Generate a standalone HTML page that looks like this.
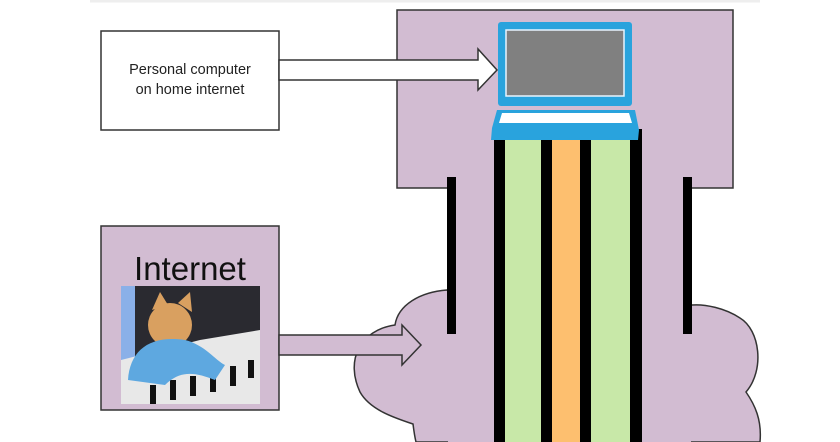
<!DOCTYPE html>
<html><head><style>
html,body{margin:0;padding:0;background:#fff;width:840px;height:442px;overflow:hidden}
</style></head><body>
<svg width="840" height="442" viewBox="0 0 840 442" xmlns="http://www.w3.org/2000/svg">
<line x1="90" y1="1" x2="760" y2="1" stroke="#eee" stroke-width="3"/>
<!-- cloud -->
<path d="M447,290 C420,292 398,305 395,325 C360,330 345,360 360,392 C370,410 395,418 413,424 C414,432 415,438 416,442 L760,442 C762,420 755,405 746,392 C765,370 760,330 740,318 C725,308 705,304 692,305 Z" fill="#d2bcd2" stroke="#333" stroke-width="1.5"/>
<!-- top rect -->
<rect x="397" y="10" width="336" height="178" fill="#d2bcd2" stroke="#333" stroke-width="1.5"/>
<rect x="448" y="186" width="243" height="256" fill="#d2bcd2"/>
<!-- bars -->
<rect x="447" y="177" width="9" height="157" fill="#000"/>
<rect x="683" y="177" width="9" height="157" fill="#000"/>
<!-- columns -->
<rect x="494" y="135" width="148" height="307" fill="#000"/>
<rect x="505" y="135" width="36" height="307" fill="#c8e8a8"/>
<rect x="552" y="135" width="28" height="307" fill="#fdbf6f"/>
<rect x="591" y="135" width="39" height="307" fill="#c8e8a8"/>
<rect x="630" y="129" width="12" height="20" fill="#000"/>
<!-- laptop -->
<rect x="498" y="22" width="134" height="84" rx="3" fill="#29a3dd"/>
<rect x="506" y="30" width="118" height="66" fill="#808080" stroke="#e8f4ff" stroke-width="1.5"/>
<polygon points="497,110 635,110 639,130 638,140 491,140 492,128" fill="#29a3dd"/>
<polygon points="502,113 629,113 632,123 499,123" fill="#fff"/>
<!-- top box -->
<rect x="101" y="31" width="178" height="99" fill="#fff" stroke="#333" stroke-width="1.5"/>
<text x="190" y="74" font-family="Liberation Sans, sans-serif" font-size="14.5" text-anchor="middle" fill="#222">Personal computer</text>
<text x="190" y="94" font-family="Liberation Sans, sans-serif" font-size="14.5" text-anchor="middle" fill="#222">on home internet</text>
<!-- top arrow -->
<polygon points="279,60 478,60 478,49 497,70 478,90 478,80 279,80" fill="#fff" stroke="#333" stroke-width="1.5"/>
<!-- internet box -->
<rect x="101" y="226" width="178" height="184" fill="#d2bcd2" stroke="#333" stroke-width="1.5"/>
<text x="190" y="280" font-family="Liberation Sans, sans-serif" font-size="33" text-anchor="middle" fill="#111">Internet</text>
<rect x="121" y="286" width="139" height="118" fill="#2a2a30"/>
<rect x="121" y="286" width="14" height="80" fill="#8ab0e8"/>
<polygon points="121,404 121,360 200,340 260,330 260,404" fill="#e8e8e8"/>
<g fill="#111"><rect x="150" y="385" width="6" height="19"/><rect x="170" y="380" width="6" height="20"/><rect x="190" y="376" width="6" height="20"/><rect x="210" y="372" width="6" height="20"/><rect x="230" y="366" width="6" height="20"/><rect x="248" y="360" width="6" height="18"/></g>
<ellipse cx="170" cy="325" rx="22" ry="22" fill="#d9a060"/>
<polygon points="152,310 160,292 168,305" fill="#d9a060"/>
<polygon points="178,303 190,292 192,312" fill="#d9a060"/>
<path d="M128,380 C130,350 150,335 185,340 C205,345 215,360 225,365 L215,380 C195,372 180,370 165,385 Z" fill="#5ea8e0"/>
<!-- bottom arrow -->
<polygon points="279,335 402,335 402,325 421,345 402,365 402,355 279,355" fill="#d2bcd2" stroke="#333" stroke-width="1.5"/>
</svg>
</body></html>
